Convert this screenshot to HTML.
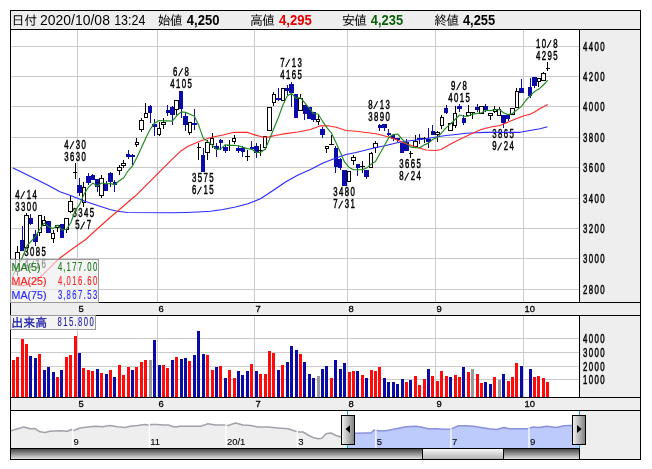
<!DOCTYPE html>
<html lang="ja">
<head>
<meta charset="utf-8">
<title>チャート</title>
<style>
html,body{margin:0;padding:0;background:#fff;}
body{width:652px;height:469px;overflow:hidden;}
svg{display:block;will-change:transform;}
text{font-family:"Liberation Sans", "IPAGothic", sans-serif;}
.ce{shape-rendering:crispEdges;}
</style>
</head>
<body>
<svg width="652" height="469" viewBox="0 0 652 469">
<defs>
<linearGradient id="trk" x1="0" y1="0" x2="0" y2="1"><stop offset="0" stop-color="#474747"/><stop offset="1" stop-color="#e2e2e2"/></linearGradient>
<linearGradient id="thb" x1="0" y1="0" x2="0" y2="1"><stop offset="0" stop-color="#f6f6f6"/><stop offset="1" stop-color="#b4b4b4"/></linearGradient>
<linearGradient id="hnd" x1="0" y1="0" x2="1" y2="0"><stop offset="0" stop-color="#f4f4f4"/><stop offset="1" stop-color="#7e7e7e"/></linearGradient>
<clipPath id="cpm"><rect x="11" y="30" width="568" height="272"/></clipPath>
<clipPath id="cpsel"><rect x="347.4" y="411" width="231.6" height="37"/></clipPath>
<clipPath id="cpuns"><rect x="11" y="411" width="336.4" height="37"/></clipPath>
</defs>
<rect x="0" y="0" width="652" height="469" fill="#ffffff"/>
<g class="ce">
<rect x="10" y="10" width="631" height="450" fill="#eeeeee"/>
<rect x="11" y="30" width="568" height="272" fill="#ffffff"/>
<rect x="11" y="316" width="568" height="81" fill="#ffffff"/>
<rect x="11" y="411" width="568" height="37" fill="#ffffff"/>
<rect x="11" y="289" width="568" height="1" fill="#cbcbcb"/>
<rect x="11" y="258" width="568" height="1" fill="#cbcbcb"/>
<rect x="11" y="228" width="568" height="1" fill="#cbcbcb"/>
<rect x="11" y="198" width="568" height="1" fill="#cbcbcb"/>
<rect x="11" y="167" width="568" height="1" fill="#cbcbcb"/>
<rect x="11" y="137" width="568" height="1" fill="#cbcbcb"/>
<rect x="11" y="106" width="568" height="1" fill="#cbcbcb"/>
<rect x="11" y="76" width="568" height="1" fill="#cbcbcb"/>
<rect x="11" y="46" width="568" height="1" fill="#cbcbcb"/>
<rect x="77" y="30" width="1" height="272" fill="#cbcbcb"/>
<rect x="77" y="316" width="1" height="81" fill="#cbcbcb"/>
<rect x="157" y="30" width="1" height="272" fill="#cbcbcb"/>
<rect x="157" y="316" width="1" height="81" fill="#cbcbcb"/>
<rect x="254" y="30" width="1" height="272" fill="#cbcbcb"/>
<rect x="254" y="316" width="1" height="81" fill="#cbcbcb"/>
<rect x="347" y="30" width="1" height="272" fill="#cbcbcb"/>
<rect x="347" y="316" width="1" height="81" fill="#cbcbcb"/>
<rect x="435" y="30" width="1" height="272" fill="#cbcbcb"/>
<rect x="435" y="316" width="1" height="81" fill="#cbcbcb"/>
<rect x="523" y="30" width="1" height="272" fill="#cbcbcb"/>
<rect x="523" y="316" width="1" height="81" fill="#cbcbcb"/>
<rect x="11" y="379" width="568" height="1" fill="#cbcbcb"/>
<rect x="11" y="366" width="568" height="1" fill="#cbcbcb"/>
<rect x="11" y="352" width="568" height="1" fill="#cbcbcb"/>
<rect x="11" y="338" width="568" height="1" fill="#cbcbcb"/>
</g>
<g class="ce">
<rect x="12" y="360" width="3" height="37" fill="#ff0a0a"/>
<rect x="16" y="357" width="3" height="40" fill="#ff0a0a"/>
<rect x="21" y="339" width="3" height="58" fill="#ff0a0a"/>
<rect x="25" y="344" width="3" height="53" fill="#ff0a0a"/>
<rect x="29" y="356" width="3" height="41" fill="#0a0aa6"/>
<rect x="34" y="358" width="3" height="39" fill="#0a0aa6"/>
<rect x="38" y="354" width="3" height="43" fill="#ff0a0a"/>
<rect x="43" y="370" width="3" height="27" fill="#0a0aa6"/>
<rect x="47" y="367" width="3" height="30" fill="#0a0aa6"/>
<rect x="52" y="372" width="3" height="25" fill="#0a0aa6"/>
<rect x="56" y="377" width="3" height="20" fill="#ff0a0a"/>
<rect x="60" y="370" width="3" height="27" fill="#0a0aa6"/>
<rect x="65" y="357" width="3" height="40" fill="#ff0a0a"/>
<rect x="69" y="355" width="3" height="42" fill="#ff0a0a"/>
<rect x="74" y="336" width="3" height="61" fill="#ff0a0a"/>
<rect x="78" y="353" width="3" height="44" fill="#0a0aa6"/>
<rect x="82" y="368" width="3" height="29" fill="#ff0a0a"/>
<rect x="87" y="370" width="3" height="27" fill="#ff0a0a"/>
<rect x="91" y="371" width="3" height="26" fill="#ff0a0a"/>
<rect x="96" y="369" width="3" height="28" fill="#0a0aa6"/>
<rect x="100" y="373" width="3" height="24" fill="#ff0a0a"/>
<rect x="105" y="374" width="3" height="23" fill="#0a0aa6"/>
<rect x="109" y="370" width="3" height="27" fill="#ff0a0a"/>
<rect x="113" y="377" width="3" height="20" fill="#0a0aa6"/>
<rect x="118" y="365" width="3" height="32" fill="#ff0a0a"/>
<rect x="122" y="375" width="3" height="22" fill="#ff0a0a"/>
<rect x="127" y="367" width="3" height="30" fill="#ff0a0a"/>
<rect x="131" y="370" width="3" height="27" fill="#0a0aa6"/>
<rect x="135" y="367" width="3" height="30" fill="#ff0a0a"/>
<rect x="140" y="362" width="3" height="35" fill="#ff0a0a"/>
<rect x="144" y="360" width="3" height="37" fill="#ff0a0a"/>
<rect x="149" y="360" width="3" height="37" fill="#9a9a9a"/>
<rect x="153" y="340" width="3" height="57" fill="#0a0aa6"/>
<rect x="158" y="365" width="3" height="32" fill="#0a0aa6"/>
<rect x="162" y="365" width="3" height="32" fill="#ff0a0a"/>
<rect x="166" y="368" width="3" height="29" fill="#ff0a0a"/>
<rect x="171" y="360" width="3" height="37" fill="#0a0aa6"/>
<rect x="175" y="357" width="3" height="40" fill="#ff0a0a"/>
<rect x="180" y="359" width="3" height="38" fill="#0a0aa6"/>
<rect x="184" y="358" width="3" height="39" fill="#0a0aa6"/>
<rect x="188" y="361" width="3" height="36" fill="#ff0a0a"/>
<rect x="193" y="355" width="3" height="42" fill="#0a0aa6"/>
<rect x="197" y="331" width="3" height="66" fill="#0a0aa6"/>
<rect x="202" y="354" width="3" height="43" fill="#0a0aa6"/>
<rect x="206" y="355" width="3" height="42" fill="#ff0a0a"/>
<rect x="211" y="370" width="3" height="27" fill="#ff0a0a"/>
<rect x="215" y="367" width="3" height="30" fill="#0a0aa6"/>
<rect x="219" y="366" width="3" height="31" fill="#ff0a0a"/>
<rect x="224" y="378" width="3" height="19" fill="#0a0aa6"/>
<rect x="228" y="370" width="3" height="27" fill="#ff0a0a"/>
<rect x="233" y="378" width="3" height="19" fill="#ff0a0a"/>
<rect x="237" y="371" width="3" height="26" fill="#0a0aa6"/>
<rect x="241" y="375" width="3" height="22" fill="#0a0aa6"/>
<rect x="246" y="371" width="3" height="26" fill="#0a0aa6"/>
<rect x="250" y="364" width="3" height="33" fill="#ff0a0a"/>
<rect x="255" y="371" width="3" height="26" fill="#0a0aa6"/>
<rect x="259" y="374" width="3" height="23" fill="#ff0a0a"/>
<rect x="264" y="374" width="3" height="23" fill="#ff0a0a"/>
<rect x="268" y="351" width="3" height="46" fill="#ff0a0a"/>
<rect x="272" y="353" width="3" height="44" fill="#ff0a0a"/>
<rect x="277" y="370" width="3" height="27" fill="#0a0aa6"/>
<rect x="281" y="365" width="3" height="32" fill="#ff0a0a"/>
<rect x="286" y="362" width="3" height="35" fill="#0a0aa6"/>
<rect x="290" y="346" width="3" height="51" fill="#0a0aa6"/>
<rect x="295" y="350" width="3" height="47" fill="#0a0aa6"/>
<rect x="299" y="354" width="3" height="43" fill="#ff0a0a"/>
<rect x="303" y="362" width="3" height="35" fill="#0a0aa6"/>
<rect x="308" y="374" width="3" height="23" fill="#0a0aa6"/>
<rect x="312" y="378" width="3" height="19" fill="#0a0aa6"/>
<rect x="317" y="376" width="3" height="21" fill="#9a9a9a"/>
<rect x="321" y="369" width="3" height="28" fill="#0a0aa6"/>
<rect x="325" y="366" width="3" height="31" fill="#0a0aa6"/>
<rect x="330" y="378" width="3" height="19" fill="#ff0a0a"/>
<rect x="334" y="360" width="3" height="37" fill="#0a0aa6"/>
<rect x="339" y="369" width="3" height="28" fill="#0a0aa6"/>
<rect x="343" y="363" width="3" height="34" fill="#0a0aa6"/>
<rect x="348" y="372" width="3" height="25" fill="#ff0a0a"/>
<rect x="352" y="371" width="3" height="26" fill="#ff0a0a"/>
<rect x="356" y="371" width="3" height="26" fill="#0a0aa6"/>
<rect x="361" y="375" width="3" height="22" fill="#ff0a0a"/>
<rect x="365" y="378" width="3" height="19" fill="#0a0aa6"/>
<rect x="370" y="370" width="3" height="27" fill="#ff0a0a"/>
<rect x="374" y="371" width="3" height="26" fill="#ff0a0a"/>
<rect x="378" y="367" width="3" height="30" fill="#ff0a0a"/>
<rect x="383" y="378" width="3" height="19" fill="#0a0aa6"/>
<rect x="387" y="382" width="3" height="15" fill="#0a0aa6"/>
<rect x="392" y="382" width="3" height="15" fill="#0a0aa6"/>
<rect x="396" y="384" width="3" height="13" fill="#0a0aa6"/>
<rect x="401" y="379" width="3" height="18" fill="#0a0aa6"/>
<rect x="405" y="382" width="3" height="15" fill="#ff0a0a"/>
<rect x="409" y="380" width="3" height="17" fill="#0a0aa6"/>
<rect x="414" y="376" width="3" height="21" fill="#ff0a0a"/>
<rect x="418" y="385" width="3" height="12" fill="#ff0a0a"/>
<rect x="423" y="379" width="3" height="18" fill="#ff0a0a"/>
<rect x="427" y="369" width="3" height="28" fill="#0a0aa6"/>
<rect x="431" y="376" width="3" height="21" fill="#ff0a0a"/>
<rect x="436" y="381" width="3" height="16" fill="#ff0a0a"/>
<rect x="440" y="371" width="3" height="26" fill="#ff0a0a"/>
<rect x="445" y="376" width="3" height="21" fill="#ff0a0a"/>
<rect x="449" y="377" width="3" height="20" fill="#0a0aa6"/>
<rect x="454" y="375" width="3" height="22" fill="#ff0a0a"/>
<rect x="458" y="377" width="3" height="20" fill="#ff0a0a"/>
<rect x="462" y="367" width="3" height="30" fill="#0a0aa6"/>
<rect x="467" y="372" width="3" height="25" fill="#ff0a0a"/>
<rect x="471" y="369" width="3" height="28" fill="#9a9a9a"/>
<rect x="476" y="374" width="3" height="23" fill="#ff0a0a"/>
<rect x="480" y="383" width="3" height="14" fill="#ff0a0a"/>
<rect x="484" y="382" width="3" height="15" fill="#0a0aa6"/>
<rect x="489" y="384" width="3" height="13" fill="#0a0aa6"/>
<rect x="493" y="377" width="3" height="20" fill="#ff0a0a"/>
<rect x="498" y="380" width="3" height="17" fill="#9a9a9a"/>
<rect x="502" y="374" width="3" height="23" fill="#0a0aa6"/>
<rect x="507" y="381" width="3" height="16" fill="#ff0a0a"/>
<rect x="511" y="377" width="3" height="20" fill="#ff0a0a"/>
<rect x="515" y="363" width="3" height="34" fill="#ff0a0a"/>
<rect x="520" y="366" width="3" height="31" fill="#0a0aa6"/>
<rect x="529" y="369" width="3" height="28" fill="#0a0aa6"/>
<rect x="533" y="377" width="3" height="20" fill="#ff0a0a"/>
<rect x="537" y="376" width="3" height="21" fill="#ff0a0a"/>
<rect x="542" y="378" width="3" height="19" fill="#ff0a0a"/>
<rect x="546" y="382" width="3" height="15" fill="#ff0a0a"/>
</g>
<g clip-path="url(#cpm)" class="ce">
<rect x="17" y="246" width="1" height="30" fill="#000"/><rect x="15" y="252" width="5" height="20" fill="#000"/><rect x="16" y="253" width="3" height="18" fill="#fff"/>
<rect x="22" y="226" width="1" height="25" fill="#0b0ba8"/><rect x="20" y="240" width="4" height="11" fill="#0b0ba8"/>
<rect x="26" y="213" width="1" height="35" fill="#000"/><rect x="24" y="215" width="5" height="33" fill="#000"/><rect x="25" y="216" width="3" height="31" fill="#fff"/>
<rect x="30" y="214" width="1" height="11" fill="#0b0ba8"/><rect x="29" y="218" width="4" height="6" fill="#0b0ba8"/>
<rect x="35" y="230" width="1" height="16" fill="#0b0ba8"/><rect x="33" y="234" width="5" height="8" fill="#0b0ba8"/>
<rect x="39" y="215" width="1" height="21" fill="#000"/><rect x="38" y="215" width="4" height="18" fill="#000"/><rect x="39" y="216" width="2" height="16" fill="#fff"/>
<rect x="44" y="216" width="1" height="10" fill="#000"/><rect x="42" y="220" width="4" height="6" fill="#000"/><rect x="43" y="221" width="2" height="4" fill="#fff"/>
<rect x="48" y="221" width="1" height="12" fill="#0b0ba8"/><rect x="46" y="221" width="5" height="12" fill="#0b0ba8"/>
<rect x="53" y="230" width="1" height="13" fill="#000"/><rect x="51" y="233" width="4" height="6" fill="#000"/><rect x="52" y="234" width="2" height="4" fill="#fff"/>
<rect x="57" y="225" width="1" height="7" fill="#000"/><rect x="55" y="225" width="5" height="3" fill="#000"/><rect x="56" y="226" width="3" height="1" fill="#fff"/>
<rect x="61" y="224" width="1" height="14" fill="#0b0ba8"/><rect x="60" y="224" width="4" height="14" fill="#0b0ba8"/>
<rect x="66" y="218" width="1" height="15" fill="#000"/><rect x="64" y="218" width="5" height="12" fill="#000"/><rect x="65" y="219" width="3" height="10" fill="#fff"/>
<rect x="70" y="196" width="1" height="17" fill="#000"/><rect x="68" y="201" width="5" height="11" fill="#000"/><rect x="69" y="202" width="3" height="9" fill="#fff"/>
<rect x="75" y="163" width="1" height="16" fill="#000"/><rect x="73" y="172" width="4" height="1" fill="#000"/>
<rect x="79" y="178" width="1" height="18" fill="#0b0ba8"/><rect x="77" y="185" width="5" height="8" fill="#0b0ba8"/>
<rect x="83" y="182" width="1" height="25" fill="#000"/><rect x="82" y="187" width="4" height="16" fill="#000"/><rect x="83" y="188" width="2" height="14" fill="#fff"/>
<rect x="88" y="173" width="1" height="12" fill="#0b0ba8"/><rect x="86" y="176" width="5" height="7" fill="#0b0ba8"/>
<rect x="92" y="174" width="1" height="6" fill="#0b0ba8"/><rect x="91" y="175" width="4" height="5" fill="#0b0ba8"/>
<rect x="97" y="179" width="1" height="13" fill="#0b0ba8"/><rect x="95" y="179" width="4" height="8" fill="#0b0ba8"/>
<rect x="101" y="175" width="1" height="23" fill="#000"/><rect x="99" y="178" width="5" height="18" fill="#000"/><rect x="100" y="179" width="3" height="16" fill="#fff"/>
<rect x="106" y="181" width="1" height="10" fill="#0b0ba8"/><rect x="104" y="184" width="4" height="7" fill="#0b0ba8"/>
<rect x="110" y="172" width="1" height="15" fill="#0b0ba8"/><rect x="108" y="173" width="5" height="9" fill="#0b0ba8"/>
<rect x="114" y="180" width="1" height="12" fill="#0b0ba8"/><rect x="113" y="182" width="4" height="3" fill="#0b0ba8"/>
<rect x="119" y="165" width="1" height="10" fill="#000"/><rect x="117" y="167" width="5" height="4" fill="#000"/><rect x="118" y="168" width="3" height="2" fill="#fff"/>
<rect x="123" y="160" width="1" height="8" fill="#000"/><rect x="121" y="163" width="5" height="3" fill="#000"/><rect x="122" y="164" width="3" height="1" fill="#fff"/>
<rect x="128" y="150" width="1" height="9" fill="#0b0ba8"/><rect x="126" y="154" width="4" height="3" fill="#0b0ba8"/>
<rect x="132" y="154" width="1" height="11" fill="#0b0ba8"/><rect x="130" y="155" width="5" height="2" fill="#0b0ba8"/>
<rect x="136" y="138" width="1" height="9" fill="#000"/><rect x="135" y="142" width="4" height="3" fill="#000"/><rect x="136" y="143" width="2" height="1" fill="#fff"/>
<rect x="141" y="118" width="1" height="14" fill="#000"/><rect x="139" y="120" width="5" height="10" fill="#000"/><rect x="140" y="121" width="3" height="8" fill="#fff"/>
<rect x="145" y="103" width="1" height="15" fill="#000"/><rect x="144" y="113" width="4" height="5" fill="#000"/><rect x="145" y="114" width="2" height="3" fill="#fff"/>
<rect x="150" y="105" width="1" height="18" fill="#0b0ba8"/><rect x="148" y="106" width="4" height="7" fill="#0b0ba8"/>
<rect x="154" y="119" width="1" height="17" fill="#0b0ba8"/><rect x="152" y="124" width="5" height="3" fill="#0b0ba8"/>
<rect x="159" y="122" width="1" height="14" fill="#000"/><rect x="157" y="128" width="4" height="7" fill="#000"/><rect x="158" y="129" width="2" height="5" fill="#fff"/>
<rect x="163" y="118" width="1" height="11" fill="#000"/><rect x="161" y="122" width="5" height="3" fill="#000"/><rect x="162" y="123" width="3" height="1" fill="#fff"/>
<rect x="167" y="105" width="1" height="11" fill="#0b0ba8"/><rect x="166" y="110" width="4" height="3" fill="#0b0ba8"/>
<rect x="172" y="106" width="1" height="19" fill="#0b0ba8"/><rect x="170" y="107" width="5" height="8" fill="#0b0ba8"/>
<rect x="176" y="100" width="1" height="15" fill="#000"/><rect x="174" y="100" width="5" height="10" fill="#000"/><rect x="175" y="101" width="3" height="8" fill="#fff"/>
<rect x="181" y="91" width="1" height="27" fill="#0b0ba8"/><rect x="179" y="91" width="4" height="18" fill="#0b0ba8"/>
<rect x="185" y="113" width="1" height="18" fill="#0b0ba8"/><rect x="183" y="116" width="5" height="9" fill="#0b0ba8"/>
<rect x="189" y="122" width="1" height="13" fill="#000"/><rect x="188" y="122" width="4" height="11" fill="#000"/><rect x="189" y="123" width="2" height="9" fill="#fff"/>
<rect x="194" y="109" width="1" height="21" fill="#0b0ba8"/><rect x="192" y="123" width="5" height="2" fill="#0b0ba8"/>
<rect x="198" y="143" width="1" height="17" fill="#000"/><rect x="197" y="147" width="4" height="1" fill="#000"/>
<rect x="203" y="148" width="1" height="24" fill="#0b0ba8"/><rect x="201" y="155" width="4" height="17" fill="#0b0ba8"/>
<rect x="207" y="140" width="1" height="20" fill="#000"/><rect x="205" y="142" width="5" height="11" fill="#000"/><rect x="206" y="143" width="3" height="9" fill="#fff"/>
<rect x="212" y="133" width="1" height="15" fill="#000"/><rect x="210" y="138" width="4" height="7" fill="#000"/><rect x="211" y="139" width="2" height="5" fill="#fff"/>
<rect x="216" y="143" width="1" height="14" fill="#0b0ba8"/><rect x="214" y="146" width="5" height="3" fill="#0b0ba8"/>
<rect x="220" y="139" width="1" height="11" fill="#0b0ba8"/><rect x="219" y="140" width="4" height="3" fill="#0b0ba8"/>
<rect x="225" y="145" width="1" height="8" fill="#0b0ba8"/><rect x="223" y="147" width="5" height="4" fill="#0b0ba8"/>
<rect x="229" y="140" width="1" height="11" fill="#000"/><rect x="227" y="145" width="5" height="1" fill="#000"/>
<rect x="234" y="135" width="1" height="9" fill="#000"/><rect x="232" y="138" width="4" height="4" fill="#000"/><rect x="233" y="139" width="2" height="2" fill="#fff"/>
<rect x="238" y="146" width="1" height="7" fill="#0b0ba8"/><rect x="236" y="148" width="5" height="3" fill="#0b0ba8"/>
<rect x="242" y="146" width="1" height="11" fill="#0b0ba8"/><rect x="241" y="148" width="4" height="4" fill="#0b0ba8"/>
<rect x="247" y="150" width="1" height="11" fill="#000"/><rect x="245" y="156" width="5" height="1" fill="#000"/>
<rect x="251" y="141" width="1" height="9" fill="#0b0ba8"/><rect x="250" y="147" width="4" height="2" fill="#0b0ba8"/>
<rect x="256" y="143" width="1" height="15" fill="#0b0ba8"/><rect x="254" y="146" width="5" height="7" fill="#0b0ba8"/>
<rect x="260" y="144" width="1" height="12" fill="#000"/><rect x="258" y="150" width="5" height="1" fill="#000"/>
<rect x="265" y="136" width="1" height="14" fill="#000"/><rect x="263" y="136" width="4" height="12" fill="#000"/><rect x="264" y="137" width="2" height="10" fill="#fff"/>
<rect x="269" y="107" width="1" height="24" fill="#000"/><rect x="267" y="107" width="5" height="24" fill="#000"/><rect x="268" y="108" width="3" height="22" fill="#fff"/>
<rect x="273" y="92" width="1" height="14" fill="#000"/><rect x="272" y="94" width="4" height="9" fill="#000"/><rect x="273" y="95" width="2" height="7" fill="#fff"/>
<rect x="278" y="88" width="1" height="13" fill="#0b0ba8"/><rect x="276" y="98" width="5" height="2" fill="#0b0ba8"/>
<rect x="282" y="88" width="1" height="13" fill="#000"/><rect x="281" y="88" width="4" height="13" fill="#000"/><rect x="282" y="89" width="2" height="11" fill="#fff"/>
<rect x="287" y="85" width="1" height="10" fill="#0b0ba8"/><rect x="285" y="88" width="4" height="3" fill="#0b0ba8"/>
<rect x="291" y="82" width="1" height="25" fill="#0b0ba8"/><rect x="289" y="84" width="5" height="9" fill="#0b0ba8"/>
<rect x="296" y="94" width="1" height="24" fill="#0b0ba8"/><rect x="294" y="94" width="4" height="24" fill="#0b0ba8"/>
<rect x="300" y="94" width="1" height="17" fill="#000"/><rect x="298" y="98" width="5" height="13" fill="#000"/><rect x="299" y="99" width="3" height="11" fill="#fff"/>
<rect x="304" y="105" width="1" height="15" fill="#0b0ba8"/><rect x="303" y="105" width="4" height="9" fill="#0b0ba8"/>
<rect x="309" y="107" width="1" height="12" fill="#0b0ba8"/><rect x="307" y="107" width="5" height="12" fill="#0b0ba8"/>
<rect x="313" y="112" width="1" height="10" fill="#0b0ba8"/><rect x="311" y="112" width="5" height="8" fill="#0b0ba8"/>
<rect x="318" y="114" width="1" height="11" fill="#000"/><rect x="316" y="119" width="4" height="3" fill="#000"/><rect x="317" y="120" width="2" height="1" fill="#fff"/>
<rect x="322" y="127" width="1" height="11" fill="#0b0ba8"/><rect x="320" y="129" width="5" height="6" fill="#0b0ba8"/>
<rect x="326" y="146" width="1" height="7" fill="#000"/><rect x="325" y="146" width="4" height="3" fill="#000"/><rect x="326" y="147" width="2" height="1" fill="#fff"/>
<rect x="331" y="135" width="1" height="10" fill="#000"/><rect x="329" y="144" width="5" height="1" fill="#000"/>
<rect x="335" y="146" width="1" height="27" fill="#0b0ba8"/><rect x="334" y="148" width="4" height="19" fill="#0b0ba8"/>
<rect x="340" y="158" width="1" height="12" fill="#0b0ba8"/><rect x="338" y="159" width="4" height="9" fill="#0b0ba8"/>
<rect x="344" y="170" width="1" height="16" fill="#0b0ba8"/><rect x="342" y="170" width="5" height="16" fill="#0b0ba8"/>
<rect x="349" y="171" width="1" height="11" fill="#000"/><rect x="347" y="171" width="4" height="11" fill="#000"/><rect x="348" y="172" width="2" height="9" fill="#fff"/>
<rect x="353" y="155" width="1" height="10" fill="#000"/><rect x="351" y="157" width="5" height="4" fill="#000"/><rect x="352" y="158" width="3" height="2" fill="#fff"/>
<rect x="357" y="164" width="1" height="12" fill="#0b0ba8"/><rect x="356" y="164" width="4" height="4" fill="#0b0ba8"/>
<rect x="362" y="161" width="1" height="12" fill="#000"/><rect x="360" y="166" width="5" height="1" fill="#000"/>
<rect x="366" y="170" width="1" height="9" fill="#0b0ba8"/><rect x="364" y="170" width="5" height="7" fill="#0b0ba8"/>
<rect x="371" y="152" width="1" height="16" fill="#000"/><rect x="369" y="153" width="4" height="15" fill="#000"/><rect x="370" y="154" width="2" height="13" fill="#fff"/>
<rect x="375" y="141" width="1" height="12" fill="#000"/><rect x="373" y="143" width="5" height="5" fill="#000"/><rect x="374" y="144" width="3" height="3" fill="#fff"/>
<rect x="379" y="124" width="1" height="7" fill="#0b0ba8"/><rect x="378" y="125" width="4" height="3" fill="#0b0ba8"/>
<rect x="384" y="124" width="1" height="7" fill="#0b0ba8"/><rect x="382" y="124" width="5" height="4" fill="#0b0ba8"/>
<rect x="388" y="129" width="1" height="7" fill="#0b0ba8"/><rect x="387" y="133" width="4" height="2" fill="#0b0ba8"/>
<rect x="393" y="135" width="1" height="6" fill="#0b0ba8"/><rect x="391" y="135" width="4" height="4" fill="#0b0ba8"/>
<rect x="397" y="138" width="1" height="4" fill="#0b0ba8"/><rect x="395" y="138" width="5" height="2" fill="#0b0ba8"/>
<rect x="402" y="143" width="1" height="10" fill="#0b0ba8"/><rect x="400" y="143" width="4" height="10" fill="#0b0ba8"/>
<rect x="406" y="139" width="1" height="12" fill="#0b0ba8"/><rect x="404" y="142" width="5" height="9" fill="#0b0ba8"/>
<rect x="410" y="151" width="1" height="7" fill="#000"/><rect x="409" y="153" width="4" height="1" fill="#000"/>
<rect x="415" y="135" width="1" height="13" fill="#000"/><rect x="413" y="141" width="5" height="6" fill="#000"/><rect x="414" y="142" width="3" height="4" fill="#fff"/>
<rect x="419" y="134" width="1" height="10" fill="#0b0ba8"/><rect x="417" y="138" width="5" height="2" fill="#0b0ba8"/>
<rect x="424" y="137" width="1" height="6" fill="#000"/><rect x="422" y="138" width="4" height="1" fill="#000"/>
<rect x="428" y="128" width="1" height="20" fill="#0b0ba8"/><rect x="426" y="139" width="5" height="3" fill="#0b0ba8"/>
<rect x="432" y="125" width="1" height="10" fill="#0b0ba8"/><rect x="431" y="131" width="4" height="4" fill="#0b0ba8"/>
<rect x="437" y="131" width="1" height="11" fill="#000"/><rect x="435" y="132" width="5" height="3" fill="#000"/><rect x="436" y="133" width="3" height="1" fill="#fff"/>
<rect x="441" y="115" width="1" height="14" fill="#000"/><rect x="440" y="117" width="4" height="9" fill="#000"/><rect x="441" y="118" width="2" height="7" fill="#fff"/>
<rect x="446" y="105" width="1" height="9" fill="#0b0ba8"/><rect x="444" y="108" width="4" height="5" fill="#0b0ba8"/>
<rect x="450" y="123" width="1" height="8" fill="#000"/><rect x="448" y="123" width="5" height="8" fill="#000"/><rect x="449" y="124" width="3" height="6" fill="#fff"/>
<rect x="455" y="106" width="1" height="22" fill="#000"/><rect x="453" y="113" width="4" height="13" fill="#000"/><rect x="454" y="114" width="2" height="11" fill="#fff"/>
<rect x="459" y="104" width="1" height="8" fill="#0b0ba8"/><rect x="457" y="106" width="5" height="3" fill="#0b0ba8"/>
<rect x="463" y="115" width="1" height="10" fill="#0b0ba8"/><rect x="462" y="118" width="4" height="5" fill="#0b0ba8"/>
<rect x="468" y="105" width="1" height="11" fill="#000"/><rect x="466" y="112" width="5" height="4" fill="#000"/><rect x="467" y="113" width="3" height="2" fill="#fff"/>
<rect x="472" y="112" width="1" height="7" fill="#000"/><rect x="470" y="112" width="5" height="1" fill="#000"/>
<rect x="477" y="104" width="1" height="8" fill="#0b0ba8"/><rect x="475" y="107" width="4" height="3" fill="#0b0ba8"/>
<rect x="481" y="106" width="1" height="8" fill="#000"/><rect x="479" y="106" width="5" height="8" fill="#000"/><rect x="480" y="107" width="3" height="6" fill="#fff"/>
<rect x="485" y="104" width="1" height="8" fill="#0b0ba8"/><rect x="484" y="106" width="4" height="4" fill="#0b0ba8"/>
<rect x="490" y="113" width="1" height="7" fill="#000"/><rect x="488" y="113" width="5" height="3" fill="#000"/><rect x="489" y="114" width="3" height="1" fill="#fff"/>
<rect x="494" y="106" width="1" height="7" fill="#000"/><rect x="493" y="109" width="4" height="3" fill="#000"/><rect x="494" y="110" width="2" height="1" fill="#fff"/>
<rect x="499" y="107" width="1" height="9" fill="#000"/><rect x="497" y="109" width="4" height="7" fill="#000"/><rect x="498" y="110" width="2" height="5" fill="#fff"/>
<rect x="503" y="115" width="1" height="13" fill="#0b0ba8"/><rect x="501" y="115" width="5" height="8" fill="#0b0ba8"/>
<rect x="508" y="115" width="1" height="6" fill="#0b0ba8"/><rect x="506" y="115" width="4" height="4" fill="#0b0ba8"/>
<rect x="512" y="108" width="1" height="7" fill="#000"/><rect x="510" y="108" width="5" height="7" fill="#000"/><rect x="511" y="109" width="3" height="5" fill="#fff"/>
<rect x="516" y="88" width="1" height="20" fill="#000"/><rect x="515" y="91" width="4" height="17" fill="#000"/><rect x="516" y="92" width="2" height="15" fill="#fff"/>
<rect x="521" y="79" width="1" height="14" fill="#0b0ba8"/><rect x="519" y="88" width="5" height="5" fill="#0b0ba8"/>
<rect x="530" y="78" width="1" height="20" fill="#0b0ba8"/><rect x="528" y="87" width="4" height="9" fill="#0b0ba8"/>
<rect x="534" y="77" width="1" height="11" fill="#0b0ba8"/><rect x="532" y="77" width="5" height="9" fill="#0b0ba8"/>
<rect x="538" y="78" width="1" height="9" fill="#000"/><rect x="537" y="78" width="4" height="4" fill="#000"/><rect x="538" y="79" width="2" height="2" fill="#fff"/>
<rect x="543" y="72" width="1" height="9" fill="#000"/><rect x="541" y="73" width="5" height="8" fill="#000"/><rect x="542" y="74" width="3" height="6" fill="#fff"/>
<rect x="547" y="62" width="1" height="9" fill="#000"/><rect x="546" y="68" width="4" height="1" fill="#000"/>
</g>
<g clip-path="url(#cpm)">
<text transform="translate(14.54 210.5) scale(0.63 1)" font-size="12.4" fill="#000" stroke="#000" stroke-width="0.5" x="1.12 10.24 19.37 28.50">3300</text>
<text transform="translate(14.54 198.6) scale(0.63 1)" font-size="12.4" fill="#000" stroke="#000" stroke-width="0.5" x="1.12 9.59 19.37 28.50" rotate="0 24 0 0">4/14</text>
<text transform="translate(63.63 160.5) scale(0.63 1)" font-size="12.4" fill="#000" stroke="#000" stroke-width="0.5" x="1.12 10.24 19.37 28.50">3630</text>
<text transform="translate(63.63 148.6) scale(0.63 1)" font-size="12.4" fill="#000" stroke="#000" stroke-width="0.5" x="1.12 9.59 19.37 28.50" rotate="0 24 0 0">4/30</text>
<text transform="translate(169.50 87.5) scale(0.63 1)" font-size="12.4" fill="#000" stroke="#000" stroke-width="0.5" x="1.12 10.24 19.37 28.50">4105</text>
<text transform="translate(172.38 75.6) scale(0.63 1)" font-size="12.4" fill="#000" stroke="#000" stroke-width="0.5" x="1.12 9.59 19.37" rotate="0 24 0">6/8</text>
<text transform="translate(279.44 78.5) scale(0.63 1)" font-size="12.4" fill="#000" stroke="#000" stroke-width="0.5" x="1.12 10.24 19.37 28.50">4165</text>
<text transform="translate(279.44 66.6) scale(0.63 1)" font-size="12.4" fill="#000" stroke="#000" stroke-width="0.5" x="1.12 9.59 19.37 28.50" rotate="0 24 0 0">7/13</text>
<text transform="translate(367.44 120.5) scale(0.63 1)" font-size="12.4" fill="#000" stroke="#000" stroke-width="0.5" x="1.12 10.24 19.37 28.50">3890</text>
<text transform="translate(367.44 108.6) scale(0.63 1)" font-size="12.4" fill="#000" stroke="#000" stroke-width="0.5" x="1.12 9.59 19.37 28.50" rotate="0 24 0 0">8/13</text>
<text transform="translate(447.50 101.5) scale(0.63 1)" font-size="12.4" fill="#000" stroke="#000" stroke-width="0.5" x="1.12 10.24 19.37 28.50">4015</text>
<text transform="translate(450.38 89.6) scale(0.63 1)" font-size="12.4" fill="#000" stroke="#000" stroke-width="0.5" x="1.12 9.59 19.37" rotate="0 24 0">9/8</text>
<text transform="translate(535.26 59.5) scale(0.63 1)" font-size="12.4" fill="#000" stroke="#000" stroke-width="0.5" x="1.12 10.24 19.37 28.50">4295</text>
<text transform="translate(535.26 47.6) scale(0.63 1)" font-size="12.4" fill="#000" stroke="#000" stroke-width="0.5" x="1.12 10.24 18.71 28.50" rotate="0 0 24 0">10/8</text>
<text transform="translate(23.60 256.1) scale(0.63 1)" font-size="12.4" fill="#000" stroke="#000" stroke-width="0.5" x="1.12 10.24 19.37 28.50">3085</text>
<text transform="translate(23.60 268.0) scale(0.63 1)" font-size="12.4" fill="#000" stroke="#000" stroke-width="0.5" x="1.12 9.59 19.37 28.50" rotate="0 24 0 0">4/16</text>
<text transform="translate(71.70 217.1) scale(0.63 1)" font-size="12.4" fill="#000" stroke="#000" stroke-width="0.5" x="1.12 10.24 19.37 28.50">3345</text>
<text transform="translate(74.58 229.0) scale(0.63 1)" font-size="12.4" fill="#000" stroke="#000" stroke-width="0.5" x="1.12 9.59 19.37" rotate="0 24 0">5/7</text>
<text transform="translate(191.19 182.1) scale(0.63 1)" font-size="12.4" fill="#000" stroke="#000" stroke-width="0.5" x="1.12 10.24 19.37 28.50">3575</text>
<text transform="translate(191.19 194.0) scale(0.63 1)" font-size="12.4" fill="#000" stroke="#000" stroke-width="0.5" x="1.12 9.59 19.37 28.50" rotate="0 24 0 0">6/15</text>
<text transform="translate(332.55 196.1) scale(0.63 1)" font-size="12.4" fill="#000" stroke="#000" stroke-width="0.5" x="1.12 10.24 19.37 28.50">3480</text>
<text transform="translate(332.55 208.0) scale(0.63 1)" font-size="12.4" fill="#000" stroke="#000" stroke-width="0.5" x="1.12 9.59 19.37 28.50" rotate="0 24 0 0">7/31</text>
<text transform="translate(398.50 168.1) scale(0.63 1)" font-size="12.4" fill="#000" stroke="#000" stroke-width="0.5" x="1.12 10.24 19.37 28.50">3665</text>
<text transform="translate(398.50 180.0) scale(0.63 1)" font-size="12.4" fill="#000" stroke="#000" stroke-width="0.5" x="1.12 9.59 19.37 28.50" rotate="0 24 0 0">8/24</text>
<text transform="translate(491.59 138.1) scale(0.63 1)" font-size="12.4" fill="#000" stroke="#000" stroke-width="0.5" x="1.12 10.24 19.37 28.50">3865</text>
<text transform="translate(491.59 150.0) scale(0.63 1)" font-size="12.4" fill="#000" stroke="#000" stroke-width="0.5" x="1.12 9.59 19.37 28.50" rotate="0 24 0 0">9/24</text>
</g>
<g clip-path="url(#cpm)">
<polyline points="13.0,168.0 22.5,172.5 35.0,178.8 47.5,185.0 60.0,191.8 72.5,196.3 85.0,201.3 97.5,205.5 110.0,209.5 117.5,211.3 127.5,212.5 173.0,212.8 185.5,212.5 198.0,212.0 210.5,211.3 223.0,209.5 235.5,207.0 248.0,203.8 260.5,198.8 273.0,190.5 285.5,182.0 298.0,175.0 310.5,169.5 323.0,163.0 336.0,158.0 346.0,154.5 356.0,152.5 366.0,150.0 376.0,147.5 386.0,145.5 396.0,143.0 406.0,141.3 416.0,140.0 426.0,138.8 436.0,137.0 446.0,135.5 456.0,134.5 466.0,133.3 476.0,132.7 486.0,132.4 499.0,132.4 520.0,132.3 530.0,130.5 540.0,128.8 547.5,126.8" fill="none" stroke="#2a2aff" stroke-width="1.15" stroke-linejoin="round" />
<polyline points="11.0,282.8 16.0,285.2 23.0,285.9 31.6,283.3 40.0,277.3 48.7,268.8 55.0,262.5 61.3,257.0 72.5,248.8 85.0,240.0 97.5,228.8 110.0,217.5 117.5,211.3 127.5,202.5 135.0,196.3 147.5,183.8 160.0,171.3 173.0,158.4 180.5,151.3 188.0,146.3 198.0,142.0 210.5,137.5 223.0,135.0 234.0,132.3 247.0,132.3 255.4,135.1 263.6,137.2 269.2,136.9 276.5,135.2 285.5,133.6 298.0,132.0 310.5,129.5 320.5,125.8 328.0,125.8 336.0,127.3 346.0,130.5 356.0,131.3 366.0,132.5 376.0,133.8 386.0,136.3 396.0,139.5 406.0,143.8 416.0,147.0 426.0,150.0 436.0,150.5 441.0,149.5 451.0,143.8 461.0,138.8 471.0,134.0 481.0,129.5 491.0,127.0 500.0,125.5 510.0,121.3 520.0,117.2 524.0,115.8 530.0,114.3 535.0,111.8 540.0,108.6 547.8,104.4" fill="none" stroke="#ff2a2a" stroke-width="1.15" stroke-linejoin="round" />
<polyline points="12.4,276.6 15.4,270.7 22.5,257.0 27.5,245.0 35.4,236.6 39.8,229.2 44.2,223.1 48.6,226.7 53.0,228.6 57.5,225.2 61.9,229.9 66.3,229.3 70.7,223.0 75.1,210.8 79.5,204.4 84.0,194.2 88.4,187.3 92.8,183.1 97.2,185.9 101.6,183.0 106.1,183.8 110.5,183.6 114.9,184.6 119.3,180.7 123.7,177.7 128.1,170.8 132.6,165.8 137.0,157.2 141.4,147.8 145.8,137.9 150.2,129.2 154.6,123.1 159.1,120.5 163.5,120.8 167.9,120.8 172.3,121.1 176.7,115.8 181.2,111.9 185.6,112.4 190.0,114.2 194.4,116.2 198.8,125.6 203.2,138.1 207.7,141.6 212.1,144.9 216.5,149.6 220.9,148.8 225.3,144.7 229.7,145.4 234.2,145.3 238.6,145.7 243.0,147.4 247.4,148.6 251.8,149.3 256.3,152.5 260.7,152.4 265.1,149.2 269.5,139.3 273.9,128.3 278.3,117.7 282.8,105.2 287.2,96.1 291.6,93.3 296.0,98.1 300.4,97.7 304.8,102.8 309.3,108.4 313.7,113.8 318.1,114.0 322.5,121.3 326.9,127.7 331.3,132.8 335.8,142.3 340.2,152.0 344.6,162.2 349.0,167.2 353.4,169.7 357.9,169.8 362.3,169.7 366.7,167.9 371.1,164.3 375.5,161.6 379.9,153.5 384.4,145.8 388.8,137.5 393.2,134.6 397.6,134.0 402.0,139.0 406.4,143.4 410.9,147.1 415.3,147.6 419.7,147.7 424.1,144.9 428.5,143.1 433.0,139.3 437.4,137.4 441.8,132.7 446.2,127.6 450.6,123.9 455.0,119.5 459.5,115.0 463.9,116.3 468.3,116.1 472.7,114.1 477.1,113.4 481.5,112.8 486.0,110.3 490.4,110.6 494.8,109.7 499.2,109.5 503.6,112.8 508.1,114.6 512.5,113.5 516.9,109.9 521.3,106.6 525.7,100.5 530.1,95.8 534.6,91.5 539.0,88.9 543.4,85.0 547.8,80.2" fill="none" stroke="#1f8a1f" stroke-width="1.15" stroke-linejoin="round" />
</g>
<text transform="translate(582.30 293.7) scale(0.63 1)" font-size="12.4" fill="#000" stroke="#000" stroke-width="0.5" x="1.12 10.24 19.37 28.50">2800</text>
<text transform="translate(582.30 262.7) scale(0.63 1)" font-size="12.4" fill="#000" stroke="#000" stroke-width="0.5" x="1.12 10.24 19.37 28.50">3000</text>
<text transform="translate(582.30 232.7) scale(0.63 1)" font-size="12.4" fill="#000" stroke="#000" stroke-width="0.5" x="1.12 10.24 19.37 28.50">3200</text>
<text transform="translate(582.30 202.7) scale(0.63 1)" font-size="12.4" fill="#000" stroke="#000" stroke-width="0.5" x="1.12 10.24 19.37 28.50">3400</text>
<text transform="translate(582.30 171.7) scale(0.63 1)" font-size="12.4" fill="#000" stroke="#000" stroke-width="0.5" x="1.12 10.24 19.37 28.50">3600</text>
<text transform="translate(582.30 141.7) scale(0.63 1)" font-size="12.4" fill="#000" stroke="#000" stroke-width="0.5" x="1.12 10.24 19.37 28.50">3800</text>
<text transform="translate(582.30 110.7) scale(0.63 1)" font-size="12.4" fill="#000" stroke="#000" stroke-width="0.5" x="1.12 10.24 19.37 28.50">4000</text>
<text transform="translate(582.30 80.7) scale(0.63 1)" font-size="12.4" fill="#000" stroke="#000" stroke-width="0.5" x="1.12 10.24 19.37 28.50">4200</text>
<text transform="translate(582.30 50.7) scale(0.63 1)" font-size="12.4" fill="#000" stroke="#000" stroke-width="0.5" x="1.12 10.24 19.37 28.50">4400</text>
<text transform="translate(582.30 383.7) scale(0.63 1)" font-size="12.4" fill="#000" stroke="#000" stroke-width="0.5" x="1.12 10.24 19.37 28.50">1000</text>
<text transform="translate(582.30 370.7) scale(0.63 1)" font-size="12.4" fill="#000" stroke="#000" stroke-width="0.5" x="1.12 10.24 19.37 28.50">2000</text>
<text transform="translate(582.30 356.7) scale(0.63 1)" font-size="12.4" fill="#000" stroke="#000" stroke-width="0.5" x="1.12 10.24 19.37 28.50">3000</text>
<text transform="translate(582.30 342.7) scale(0.63 1)" font-size="12.4" fill="#000" stroke="#000" stroke-width="0.5" x="1.12 10.24 19.37 28.50">4000</text>
<text transform="translate(78.5 312.1) scale(0.96 1)" font-size="9.8" fill="#000" stroke="#000" stroke-width="0.3">5</text><text transform="translate(78.5 407.1) scale(0.96 1)" font-size="9.8" fill="#000" stroke="#000" stroke-width="0.3">5</text>
<text transform="translate(158.5 312.1) scale(0.96 1)" font-size="9.8" fill="#000" stroke="#000" stroke-width="0.3">6</text><text transform="translate(158.5 407.1) scale(0.96 1)" font-size="9.8" fill="#000" stroke="#000" stroke-width="0.3">6</text>
<text transform="translate(255.5 312.1) scale(0.96 1)" font-size="9.8" fill="#000" stroke="#000" stroke-width="0.3">7</text><text transform="translate(255.5 407.1) scale(0.96 1)" font-size="9.8" fill="#000" stroke="#000" stroke-width="0.3">7</text>
<text transform="translate(348.5 312.1) scale(0.96 1)" font-size="9.8" fill="#000" stroke="#000" stroke-width="0.3">8</text><text transform="translate(348.5 407.1) scale(0.96 1)" font-size="9.8" fill="#000" stroke="#000" stroke-width="0.3">8</text>
<text transform="translate(436.5 312.1) scale(0.96 1)" font-size="9.8" fill="#000" stroke="#000" stroke-width="0.3">9</text><text transform="translate(436.5 407.1) scale(0.96 1)" font-size="9.8" fill="#000" stroke="#000" stroke-width="0.3">9</text>
<text transform="translate(524.5 312.1) scale(0.96 1)" font-size="9.8" fill="#000" stroke="#000" stroke-width="0.3">10</text><text transform="translate(524.5 407.1) scale(0.96 1)" font-size="9.8" fill="#000" stroke="#000" stroke-width="0.3">10</text>
<g clip-path="url(#cpuns)"><polygon points="11,448 11.0,430.8 23.8,427.0 30.0,428.8 35.0,428.6 40.0,431.8 45.0,432.5 50.0,431.3 60.0,430.8 67.5,431.3 71.3,429.5 73.0,430.6 75.0,430.0 80.0,428.0 87.5,427.0 95.0,426.3 102.5,426.8 110.0,425.5 117.5,426.8 125.0,427.5 130.0,426.3 137.5,425.5 145.0,424.5 147.5,425.0 151.3,424.5 157.5,424.5 163.0,425.0 168.0,425.0 174.3,427.0 180.5,426.3 188.0,426.3 200.5,426.3 208.0,423.8 215.5,425.0 224.3,425.0 228.0,425.5 235.5,423.0 243.0,425.0 250.5,425.5 258.0,427.0 268.0,427.0 278.0,428.0 288.0,428.8 295.5,431.3 299.3,432.0 303.0,432.0 308.0,435.0 313.0,437.5 318.0,438.8 321.8,438.3 326.0,433.8 331.0,433.0 336.0,435.5 341.0,437.0 347.4,433.6 356.0,433.3 366.0,433.0 371.0,433.0 374.0,430.0 378.5,430.8 386.0,430.8 396.0,428.8 406.0,426.8 416.0,426.3 421.0,427.0 428.5,428.8 436.0,428.8 443.5,429.3 449.8,429.3 453.5,428.0 458.5,425.8 466.0,425.8 473.5,426.3 481.0,427.5 489.0,428.8 496.5,429.5 504.0,427.5 509.0,428.8 519.0,428.8 527.8,428.8 532.8,427.0 539.0,427.5 546.5,426.3 556.5,427.5 564.0,425.8 571.5,425.6 579.0,425.6 579,448" fill="#eeeeee"/><polyline points="11.0,430.8 23.8,427.0 30.0,428.8 35.0,428.6 40.0,431.8 45.0,432.5 50.0,431.3 60.0,430.8 67.5,431.3 71.3,429.5 73.0,430.6 75.0,430.0 80.0,428.0 87.5,427.0 95.0,426.3 102.5,426.8 110.0,425.5 117.5,426.8 125.0,427.5 130.0,426.3 137.5,425.5 145.0,424.5 147.5,425.0 151.3,424.5 157.5,424.5 163.0,425.0 168.0,425.0 174.3,427.0 180.5,426.3 188.0,426.3 200.5,426.3 208.0,423.8 215.5,425.0 224.3,425.0 228.0,425.5 235.5,423.0 243.0,425.0 250.5,425.5 258.0,427.0 268.0,427.0 278.0,428.0 288.0,428.8 295.5,431.3 299.3,432.0 303.0,432.0 308.0,435.0 313.0,437.5 318.0,438.8 321.8,438.3 326.0,433.8 331.0,433.0 336.0,435.5 341.0,437.0 347.4,433.6 356.0,433.3 366.0,433.0 371.0,433.0 374.0,430.0 378.5,430.8 386.0,430.8 396.0,428.8 406.0,426.8 416.0,426.3 421.0,427.0 428.5,428.8 436.0,428.8 443.5,429.3 449.8,429.3 453.5,428.0 458.5,425.8 466.0,425.8 473.5,426.3 481.0,427.5 489.0,428.8 496.5,429.5 504.0,427.5 509.0,428.8 519.0,428.8 527.8,428.8 532.8,427.0 539.0,427.5 546.5,426.3 556.5,427.5 564.0,425.8 571.5,425.6 579.0,425.6" fill="none" stroke="#a2a2aa" stroke-width="1.5" stroke-linejoin="round" />
</g>
<g clip-path="url(#cpsel)"><polygon points="11,448 11.0,430.8 23.8,427.0 30.0,428.8 35.0,428.6 40.0,431.8 45.0,432.5 50.0,431.3 60.0,430.8 67.5,431.3 71.3,429.5 73.0,430.6 75.0,430.0 80.0,428.0 87.5,427.0 95.0,426.3 102.5,426.8 110.0,425.5 117.5,426.8 125.0,427.5 130.0,426.3 137.5,425.5 145.0,424.5 147.5,425.0 151.3,424.5 157.5,424.5 163.0,425.0 168.0,425.0 174.3,427.0 180.5,426.3 188.0,426.3 200.5,426.3 208.0,423.8 215.5,425.0 224.3,425.0 228.0,425.5 235.5,423.0 243.0,425.0 250.5,425.5 258.0,427.0 268.0,427.0 278.0,428.0 288.0,428.8 295.5,431.3 299.3,432.0 303.0,432.0 308.0,435.0 313.0,437.5 318.0,438.8 321.8,438.3 326.0,433.8 331.0,433.0 336.0,435.5 341.0,437.0 347.4,433.6 356.0,433.3 366.0,433.0 371.0,433.0 374.0,430.0 378.5,430.8 386.0,430.8 396.0,428.8 406.0,426.8 416.0,426.3 421.0,427.0 428.5,428.8 436.0,428.8 443.5,429.3 449.8,429.3 453.5,428.0 458.5,425.8 466.0,425.8 473.5,426.3 481.0,427.5 489.0,428.8 496.5,429.5 504.0,427.5 509.0,428.8 519.0,428.8 527.8,428.8 532.8,427.0 539.0,427.5 546.5,426.3 556.5,427.5 564.0,425.8 571.5,425.6 579.0,425.6 579,448" fill="#bdcafc"/><polyline points="11.0,430.8 23.8,427.0 30.0,428.8 35.0,428.6 40.0,431.8 45.0,432.5 50.0,431.3 60.0,430.8 67.5,431.3 71.3,429.5 73.0,430.6 75.0,430.0 80.0,428.0 87.5,427.0 95.0,426.3 102.5,426.8 110.0,425.5 117.5,426.8 125.0,427.5 130.0,426.3 137.5,425.5 145.0,424.5 147.5,425.0 151.3,424.5 157.5,424.5 163.0,425.0 168.0,425.0 174.3,427.0 180.5,426.3 188.0,426.3 200.5,426.3 208.0,423.8 215.5,425.0 224.3,425.0 228.0,425.5 235.5,423.0 243.0,425.0 250.5,425.5 258.0,427.0 268.0,427.0 278.0,428.0 288.0,428.8 295.5,431.3 299.3,432.0 303.0,432.0 308.0,435.0 313.0,437.5 318.0,438.8 321.8,438.3 326.0,433.8 331.0,433.0 336.0,435.5 341.0,437.0 347.4,433.6 356.0,433.3 366.0,433.0 371.0,433.0 374.0,430.0 378.5,430.8 386.0,430.8 396.0,428.8 406.0,426.8 416.0,426.3 421.0,427.0 428.5,428.8 436.0,428.8 443.5,429.3 449.8,429.3 453.5,428.0 458.5,425.8 466.0,425.8 473.5,426.3 481.0,427.5 489.0,428.8 496.5,429.5 504.0,427.5 509.0,428.8 519.0,428.8 527.8,428.8 532.8,427.0 539.0,427.5 546.5,426.3 556.5,427.5 564.0,425.8 571.5,425.6 579.0,425.6" fill="none" stroke="#8a92dc" stroke-width="1.5" stroke-linejoin="round" />
</g>
<line x1="72.7" y1="428.9" x2="72.7" y2="448" stroke="#ffffff" stroke-width="1.2"/><text x="73.6" y="444.8" font-size="9.5" fill="#000" stroke="#000" stroke-width="0.1">9</text>
<line x1="149.3" y1="423.3" x2="149.3" y2="448" stroke="#ffffff" stroke-width="1.2"/><text x="150.2" y="444.8" font-size="9.5" fill="#000" stroke="#000" stroke-width="0.1">11</text>
<line x1="226.0" y1="423.7" x2="226.0" y2="448" stroke="#ffffff" stroke-width="1.2"/><text x="226.9" y="444.8" font-size="9.5" fill="#000" stroke="#000" stroke-width="0.1">20/1</text>
<line x1="297.3" y1="430.1" x2="297.3" y2="448" stroke="#ffffff" stroke-width="1.2"/><text x="298.2" y="444.8" font-size="9.5" fill="#000" stroke="#000" stroke-width="0.1">3</text>
<line x1="375.9" y1="428.8" x2="375.9" y2="448" stroke="#ffffff" stroke-width="1.2"/><text x="376.8" y="444.8" font-size="9.5" fill="#000" stroke="#000" stroke-width="0.1">5</text>
<line x1="451.0" y1="427.4" x2="451.0" y2="448" stroke="#ffffff" stroke-width="1.2"/><text x="451.9" y="444.8" font-size="9.5" fill="#000" stroke="#000" stroke-width="0.1">7</text>
<line x1="529.0" y1="426.9" x2="529.0" y2="448" stroke="#ffffff" stroke-width="1.2"/><text x="529.9" y="444.8" font-size="9.5" fill="#000" stroke="#000" stroke-width="0.1">9</text>
<g class="ce">
<rect x="11" y="449" width="568" height="10" fill="url(#trk)"/>
<rect x="423" y="449" width="80" height="10" fill="url(#thb)"/>
<rect x="422" y="449" width="1" height="10" fill="#000"/><rect x="503" y="449" width="1" height="10" fill="#000"/>
<rect x="347" y="411" width="1" height="37" fill="#19a6e6"/>
<rect x="579" y="411" width="1" height="37" fill="#19a6e6"/>
</g>
<rect x="341.5" y="415.5" width="13" height="29" fill="url(#hnd)" stroke="#000" stroke-width="1"/>
<polygon points="345.6,429.1 350,425.3 350,432.9" fill="#000"/>
<rect x="572.5" y="415.5" width="13" height="29" fill="url(#hnd)" stroke="#000" stroke-width="1"/>
<polygon points="581.7,429.1 577,425.1 577,433.1" fill="#000"/>
<g class="ce" fill="#000">
<rect x="10" y="10" width="631" height="1"/><rect x="10" y="459" width="631" height="1"/><rect x="10" y="10" width="1" height="450"/><rect x="640" y="10" width="1" height="450"/>
<rect x="10" y="29" width="631" height="1"/><rect x="10" y="302" width="631" height="1"/><rect x="10" y="315" width="631" height="1"/><rect x="10" y="397" width="631" height="1"/><rect x="10" y="410" width="631" height="1"/><rect x="10" y="448" width="570" height="1"/>
<rect x="579" y="29" width="1" height="274"/><rect x="579" y="315" width="1" height="83"/><rect x="579" y="448" width="1" height="12"/>
</g>
<rect class="ce" x="10.5" y="259.5" width="88" height="43" fill="#eeeeee" fill-opacity="0.66" stroke="#9a9a9a" stroke-width="1"/>
<text x="11.5" y="270.9" font-size="11.5" fill="#1c7a1c" stroke="#1c7a1c" stroke-width="0.15" textLength="29.1" lengthAdjust="spacingAndGlyphs">MA(5)</text>
<text transform="translate(57.30 270.9) scale(0.63 1)" font-size="12.2" fill="#1c7a1c" stroke="#1c7a1c" stroke-width="0.15" x="1.17 9.58 14.58 23.71 32.84 41.80 47.36 56.49">4,177.00</text>
<text x="11.5" y="284.8" font-size="11.5" fill="#ff1e1e" stroke="#ff1e1e" stroke-width="0.15" textLength="35.0" lengthAdjust="spacingAndGlyphs">MA(25)</text>
<text transform="translate(57.30 284.8) scale(0.63 1)" font-size="12.2" fill="#ff1e1e" stroke="#ff1e1e" stroke-width="0.15" x="1.17 9.58 14.58 23.71 32.84 41.80 47.36 56.49">4,016.60</text>
<text x="11.5" y="298.7" font-size="11.5" fill="#2626ff" stroke="#2626ff" stroke-width="0.15" textLength="35.0" lengthAdjust="spacingAndGlyphs">MA(75)</text>
<text transform="translate(57.30 298.7) scale(0.63 1)" font-size="12.2" fill="#2626ff" stroke="#2626ff" stroke-width="0.15" x="1.17 9.58 14.58 23.71 32.84 41.80 47.36 56.49">3,867.53</text>
<rect class="ce" x="10.5" y="315.5" width="85" height="14" fill="#eeeeee" fill-opacity="0.66" stroke="#9a9a9a" stroke-width="1"/>
<text x="11.2" y="326.6" font-size="12.3" fill="#1a1aa8" stroke="#1a1aa8" stroke-width="0.3" textLength="36" lengthAdjust="spacingAndGlyphs">出来高</text>
<text transform="translate(56.70 326.0) scale(0.63 1)" font-size="12.2" fill="#1a1aa8" stroke="#1a1aa8" stroke-width="0.15" x="1.17 10.30 19.42 28.38 33.95 43.08 52.20">815.800</text>
<text x="11.6" y="24.7" font-size="13" fill="#000" font-weight="normal" textLength="25.6" lengthAdjust="spacing">日付</text>
<text x="40.1" y="25.0" font-size="14" fill="#000" font-weight="normal" textLength="69.8" lengthAdjust="spacingAndGlyphs">2020/10/08</text>
<text x="114.2" y="25.0" font-size="14" fill="#000" font-weight="normal" textLength="31.2" lengthAdjust="spacingAndGlyphs">13:24</text>
<text x="157.8" y="24.7" font-size="13" fill="#000" font-weight="normal" textLength="25.0" lengthAdjust="spacing">始値</text>
<text x="186.8" y="25.0" font-size="14" fill="#000" font-weight="bold" textLength="32.7" lengthAdjust="spacingAndGlyphs">4,250</text>
<text x="250.0" y="24.7" font-size="13" fill="#000" font-weight="normal" textLength="25.0" lengthAdjust="spacing">高値</text>
<text x="279.0" y="25.0" font-size="14" fill="#e60000" font-weight="bold" textLength="32.7" lengthAdjust="spacingAndGlyphs">4,295</text>
<text x="342.0" y="24.7" font-size="13" fill="#000" font-weight="normal" textLength="25.0" lengthAdjust="spacing">安値</text>
<text x="370.8" y="25.0" font-size="14" fill="#0a5f0a" font-weight="bold" textLength="32.3" lengthAdjust="spacingAndGlyphs">4,235</text>
<text x="434.2" y="24.7" font-size="13" fill="#000" font-weight="normal" textLength="25.0" lengthAdjust="spacing">終値</text>
<text x="462.9" y="25.0" font-size="14" fill="#000" font-weight="bold" textLength="32.3" lengthAdjust="spacingAndGlyphs">4,255</text>
</svg>
</body>
</html>
